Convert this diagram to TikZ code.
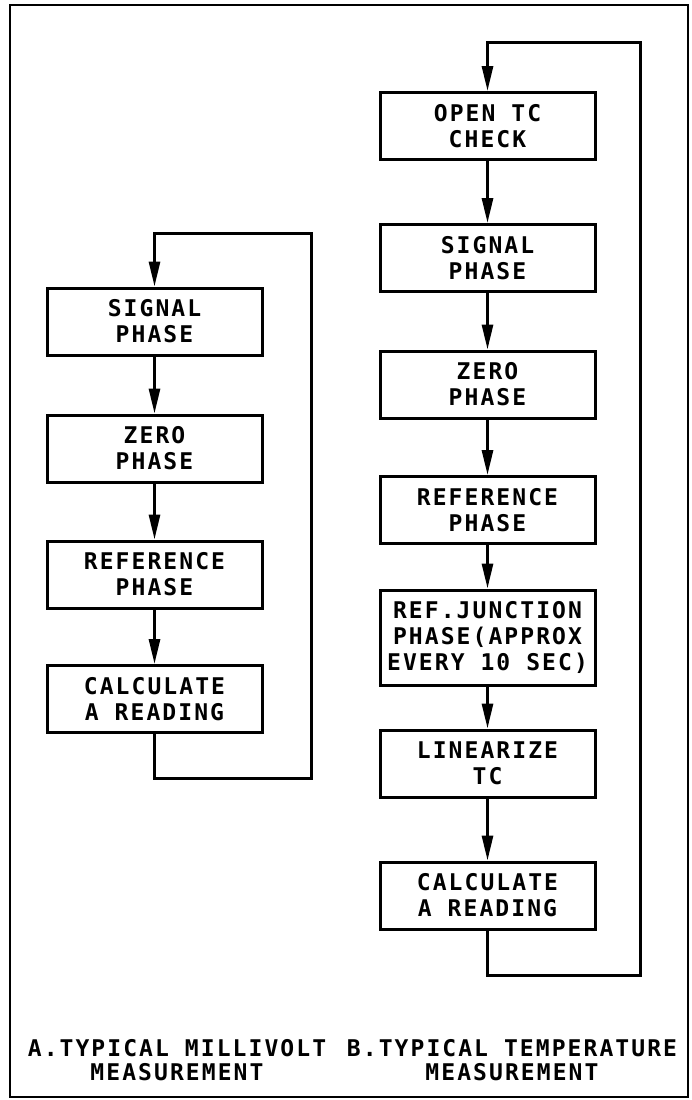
\documentclass[tikz,border=0pt]{standalone}
\usepackage{fontspec}
\usetikzlibrary{arrows.meta}
\newfontfamily\plotfont[LetterSpace=9]{DejaVu Sans Mono Bold}
\tikzset{
  stepbox/.style={draw, line width=3pt, minimum width=215pt, minimum height=67pt,
    align=center, inner sep=2pt, font=\plotfont\fontsize{23}{26}\selectfont},
  flow/.style={line width=3pt, -{Triangle[length=25pt,width=11pt]}},
  captext/.style={anchor=base, inner sep=0pt, font=\plotfont\fontsize{23}{24}\selectfont},
  frame/.style={line width=2pt}
}
\begin{document}
\begin{tikzpicture}[x=1pt,y=-1pt]
\useasboundingbox (0,0) rectangle (691,1100);
\draw[frame] (10,5) rectangle (688,1097);
% column A
\node[stepbox] (a1) at (154.5,321.5) {SIGNAL\\PHASE};
\node[stepbox] (a2) at (154.5,448.5) {ZERO\\PHASE};
\node[stepbox] (a3) at (154.5,574.5) {REFERENCE\\PHASE};
\node[stepbox] (a4) at (154.5,699) {CALCULATE\\A READING};
\draw[flow] (a1) -- (a2);
\draw[flow] (a2) -- (a3);
\draw[flow] (a3) -- (a4);
\coordinate (aB) at (311,778);
\coordinate (aT) at (311,233);
\draw[flow] (a4.south) |- (aB) -- (aT) -| (a1.north);
% column B
\node[stepbox] (b1) at (487.5,126) {OPEN TC\\CHECK};
\node[stepbox] (b2) at (487.5,258) {SIGNAL\\PHASE};
\node[stepbox] (b3) at (487.5,384.5) {ZERO\\PHASE};
\node[stepbox] (b4) at (487.5,510) {REFERENCE\\PHASE};
\node[stepbox, minimum height=95pt] (b5) at (487.5,637.5) {REF.JUNCTION\\PHASE(APPROX\\EVERY 10 SEC)};
\node[stepbox] (b6) at (487.5,763.5) {LINEARIZE\\TC};
\node[stepbox] (b7) at (487.5,895.5) {CALCULATE\\A READING};
\draw[flow] (b1) -- (b2);
\draw[flow] (b2) -- (b3);
\draw[flow] (b3) -- (b4);
\draw[flow] (b4) -- (b5);
\draw[flow] (b5) -- (b6);
\draw[flow] (b6) -- (b7);
\coordinate (bB) at (640,975);
\coordinate (bT) at (640,42);
\draw[flow] (b7.south) |- (bB) -- (bT) -| (b1.north);
% captions
\node[captext] (ca1) at (177,1056) {A.TYPICAL MILLIVOLT};
\node[captext] (ca2) at (177,1080) {MEASUREMENT};
\node[captext] (cb1) at (512,1056) {B.TYPICAL TEMPERATURE};
\node[captext] (cb2) at (512,1080) {MEASUREMENT};
\end{tikzpicture}
\end{document}
